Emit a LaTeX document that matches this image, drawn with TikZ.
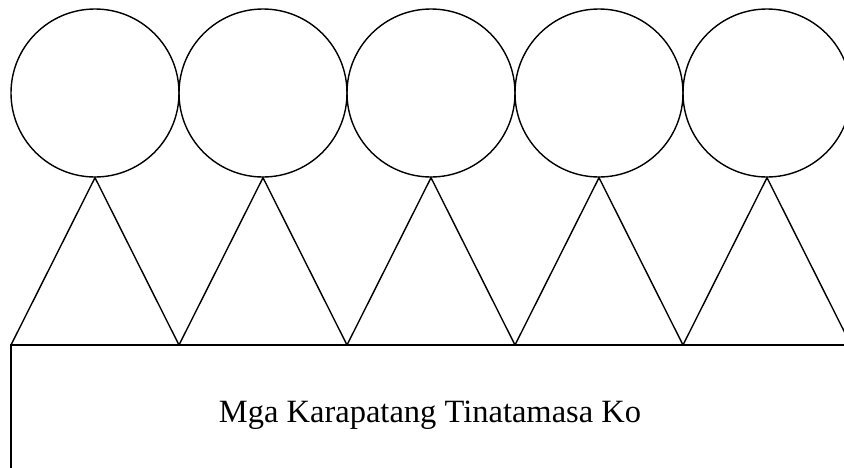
\documentclass[tikz,border=0pt]{standalone}
\usepackage{fontspec}
\setmainfont{Liberation Serif}
\begin{document}
\begin{tikzpicture}[x=1pt,y=-1pt,line width=1.4pt,
  head/.style={circle,draw,inner sep=0pt,minimum size=168pt}]
  \useasboundingbox (0,0) rectangle (844,467);
  \clip (0,0) rectangle (844,467);
  \foreach \i in {0,...,4} {
    \node [head] (head\i) at (95+168*\i,93) {};
    \coordinate (left\i) at (11+168*\i,345);
    \coordinate (right\i) at (179+168*\i,345);
    \draw (left\i) -- (head\i.south) -- (right\i);
  }
  \draw (left0) rectangle (900,520);
  \node (title) at (430,415) {\fontsize{32.5}{39}\selectfont Mga Karapatang Tinatamasa Ko};
\end{tikzpicture}
\end{document}
